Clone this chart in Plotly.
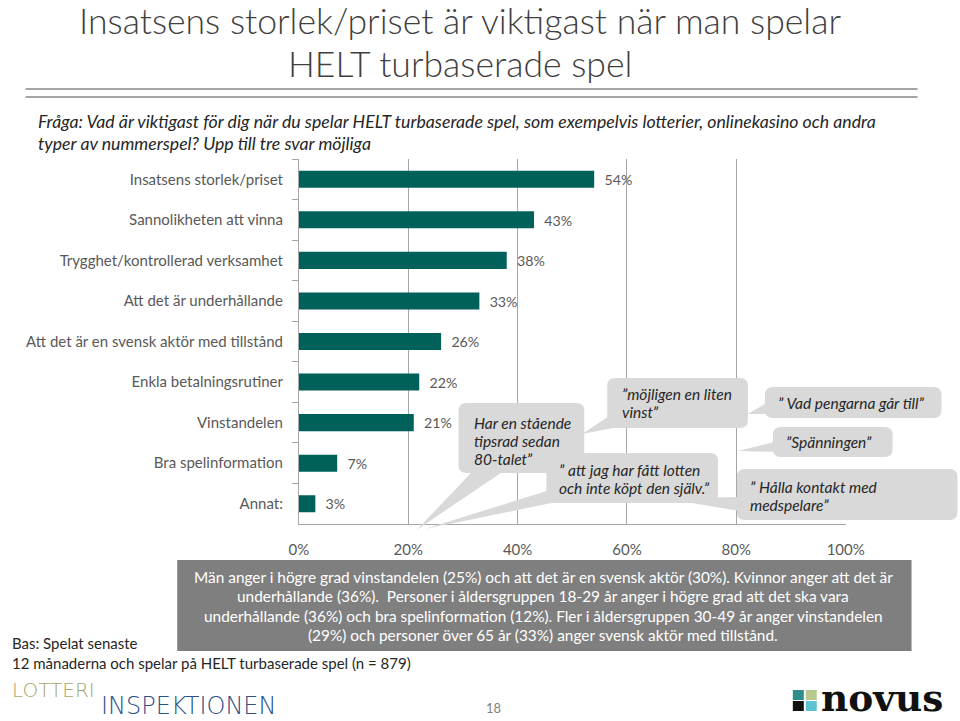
import plotly.graph_objects as go

W, H = 960, 721

# ---------------- data ----------------
categories = [
    "Insatsens storlek/priset",
    "Sannolikheten att vinna",
    "Trygghet/kontrollerad verksamhet",
    "Att det är underhållande",
    "Att det är en svensk aktör med tillstånd",
    "Enkla betalningsrutiner",
    "Vinstandelen",
    "Bra spelinformation",
    "Annat:",
]
values = [0.54, 0.43, 0.38, 0.33, 0.26, 0.22, 0.21, 0.07, 0.03]
x_ticks = [0, 0.2, 0.4, 0.6, 0.8, 1.0]
x_tick_labels = ["0%", "20%", "40%", "60%", "80%", "100%"]

title_lines = ["Insatsens storlek/priset är viktigast när man spelar", "HELT turbaserade spel"]
question_lines = [
    "Fråga: Vad är viktigast för dig när du spelar HELT turbaserade spel, som exempelvis lotterier, onlinekasino och andra",
    "typer av nummerspel? Upp till tre svar möjliga",
]
summary_lines = [
    "Män anger i högre grad vinstandelen (25%) och att det är en svensk aktör (30%). Kvinnor anger att det är",
    "underhållande (36%).  Personer i åldersgruppen 18-29 år anger i högre grad att det ska vara",
    "underhållande (36%) och bra spelinformation (12%). Fler i åldersgruppen 30-49 år anger vinstandelen",
    "(29%) och personer över 65 år (33%) anger svensk aktör med tillstånd.",
]
base_lines = ["Bas: Spelat senaste", "12 månaderna och spelar på HELT turbaserade spel (n = 879)"]
quotes = [
    ["Har en stående", "tipsrad sedan", "80-talet”"],
    ["”möjligen en liten", "vinst”"],
    ["” att jag har fått lotten", "och inte köpt den själv.”"],
    ["” Vad pengarna går till”"],
    ["”Spänningen”"],
    ["” Hålla kontakt med", "medspelare”"],
]

FONT = "Lato"
BAR = "#00615b"
GREY_TXT = "#595959"

# horizontal calibration of the rendered page (measured): shown_x = 8.4 + 0.972 * x
SX, OX = 0.972, 8.4


def px(x):
    return max((x - OX) / SX, 0) / W


def py(y):
    return 1 - y / H


fig = go.Figure()
fig.add_trace(go.Bar(
    x=values, y=categories, orientation="h",
    marker=dict(color=BAR, line=dict(width=0)),
    text=[f"{round(v*100)}%" for v in values],
    texttemplate="  %{text}",
    textposition="outside", cliponaxis=False,
    textfont=dict(family=FONT, size=15, color=GREY_TXT),
    hoverinfo="skip",
))

shapes = []
annotations = []

# title underline double rule
for yy in (89, 97):
    shapes.append(dict(type="line", xref="paper", yref="paper",
                       x0=px(24), x1=px(918), y0=py(yy), y1=py(yy),
                       line=dict(color="#a6a6a6", width=2.2)))

# title
for i, t in enumerate(title_lines):
    annotations.append(dict(text=t, x=px(459), y=py(21 + 43 * i), xref="paper", yref="paper",
                            xanchor="center", yanchor="middle", showarrow=False,
                            font=dict(family=FONT, size=35.6, color="#404040", weight=300)))
# question
for i, t in enumerate(question_lines):
    annotations.append(dict(text=f"<i>{t}</i>", x=px(34), y=py(121 + 22 * i), xref="paper", yref="paper",
                            xanchor="left", yanchor="middle", showarrow=False,
                            font=dict(family=FONT, size=17.7, color="#262626")))


# callout bubbles
def rrect_path(x0, y0, x1, y1, r=8):
    return (f"M {px(x0+r)},{py(y0)} L {px(x1-r)},{py(y0)} Q {px(x1)},{py(y0)} {px(x1)},{py(y0+r)} "
            f"L {px(x1)},{py(y1-r)} Q {px(x1)},{py(y1)} {px(x1-r)},{py(y1)} "
            f"L {px(x0+r)},{py(y1)} Q {px(x0)},{py(y1)} {px(x0)},{py(y1-r)} "
            f"L {px(x0)},{py(y0+r)} Q {px(x0)},{py(y0)} {px(x0+r)},{py(y0)} Z")


def tri_path(a, b, c):
    return f"M {px(a[0])},{py(a[1])} L {px(b[0])},{py(b[1])} L {px(c[0])},{py(c[1])} Z"


BUB = "#d9d9d9"
# (rect, tail triangle, text x, first line y, quote index)
bubbles = [
    ((737, 469, 958, 520), ((745, 497), (745, 512), (662, 498)), 748, 487, 5),
    ((458, 403, 584, 473), ((478, 465), (512, 465), (416, 530)), 471, 423, 0),
    ((607, 378, 748, 428), ((615, 412), (618, 427), (582, 434)), 620, 394, 1),
    ((546, 453, 718, 503), ((556, 488), (556, 502), (424, 529)), 557, 470, 2),
    ((765, 387, 942, 418), ((772, 400), (772, 414), (748, 414)), 776, 403, 3),
    ((773, 427, 893, 457), ((778, 441), (778, 452), (738, 451)), 784, 442, 4),
]
for rect, tri, tx, ty, qi in bubbles:
    shapes.append(dict(type="path", xref="paper", yref="paper", path=tri_path(*tri),
                       fillcolor=BUB, line=dict(width=0), layer="above"))
    shapes.append(dict(type="path", xref="paper", yref="paper", path=rrect_path(*rect),
                       fillcolor=BUB, line=dict(width=0), layer="above"))
    for j, t in enumerate(quotes[qi]):
        annotations.append(dict(text=f"<i>{t}</i>", x=px(tx), y=py(ty + 18 * j), xref="paper", yref="paper",
                                xanchor="left", yanchor="middle", showarrow=False,
                                font=dict(family=FONT, size=15.5, color="#262626")))

# summary box
shapes.append(dict(type="rect", xref="paper", yref="paper", x0=px(176), x1=px(912), y0=py(560), y1=py(651),
                   fillcolor="#7f7f7f", line=dict(width=0)))
for i, t in enumerate(summary_lines):
    annotations.append(dict(text=t, x=px(543), y=py(577 + 19.3 * i), xref="paper", yref="paper",
                            xanchor="center", yanchor="middle", showarrow=False,
                            font=dict(family=FONT, size=15.4, color="#ffffff")))
# base
for i, t in enumerate(base_lines):
    annotations.append(dict(text=t, x=px(3), y=py(643 + 19.5 * i), xref="paper", yref="paper",
                            xanchor="left", yanchor="middle", showarrow=False,
                            font=dict(family=FONT, size=15, color="#262626")))
# page number
annotations.append(dict(text="18", x=px(493), y=py(708), xref="paper", yref="paper",
                        xanchor="center", yanchor="middle", showarrow=False,
                        font=dict(family=FONT, size=13, color="#7f7f7f")))
# logos
annotations.append(dict(text="LOTTERI", x=px(2), y=py(690), xref="paper", yref="paper",
                        xanchor="left", yanchor="middle", showarrow=False,
                        font=dict(family="DejaVu Sans", size=20, color="#a9a66e", weight=200)))
annotations.append(dict(text="INSPEKTIONEN", x=px(99), y=py(720.5), xref="paper", yref="paper",
                        xanchor="left", yanchor="bottom", showarrow=False, borderpad=0,
                        font=dict(family="DejaVu Sans", size=24, color="#2b5188", weight=200)))
for (x0, y0, c) in [(793, 690, "#2e8c8c"), (806, 690, "#b7c98c"), (793, 701, "#111111"), (806, 701, "#5cc3d3")]:
    shapes.append(dict(type="rect", xref="paper", yref="paper", x0=px(x0), x1=px(x0 + 11),
                       y0=py(y0), y1=py(y0 + 10), fillcolor=c, line=dict(width=0)))
annotations.append(dict(text="<b>novus</b>", x=px(819), y=py(698), xref="paper", yref="paper",
                        xanchor="left", yanchor="middle", showarrow=False,
                        font=dict(family="DejaVu Serif", size=37.5, color="#111111")))

fig.update_layout(
    width=W, height=H, autosize=False,
    margin=dict(l=0, r=0, t=0, b=0),
    paper_bgcolor="white", plot_bgcolor="white",
    showlegend=False,
    bargap=0.58,
    shapes=shapes, annotations=annotations,
    xaxis=dict(domain=[px(298), px(846)], range=[0, 1], tickvals=x_ticks, ticktext=x_tick_labels,
               showgrid=True, gridcolor="#a6a6a6", gridwidth=1, zeroline=False,
               showline=True, linecolor="#a6a6a6", linewidth=1,
               ticks="outside", ticklen=12, tickcolor="rgba(0,0,0,0)",
               tickfont=dict(family=FONT, size=15, color=GREY_TXT), fixedrange=True),
    yaxis=dict(domain=[py(524), py(159)], autorange="reversed", type="category",
               showline=True, linecolor="#a6a6a6", linewidth=1,
               ticks="outside", ticklen=6, tickcolor="#a6a6a6", tickson="boundaries",
               tickfont=dict(family=FONT, size=15, color=GREY_TXT), showgrid=False,
               ticklabelstandoff=12, fixedrange=True),
    font=dict(family=FONT),
)

post = (
    "document.documentElement.style.margin='0';document.body.style.margin='0';document.body.style.padding='0';"
    "document.documentElement.style.overflow='hidden';document.body.style.overflow='hidden';"
    "var gd=document.getElementById('{plot_id}');"
    "if(gd){gd.style.width='960px';gd.style.height='721px';"
    "Plotly.relayout(gd,{width:960,height:721,autosize:false});}"
)
fig.write_html("out.html", config={"responsive": False, "displayModeBar": False}, post_script=post)
